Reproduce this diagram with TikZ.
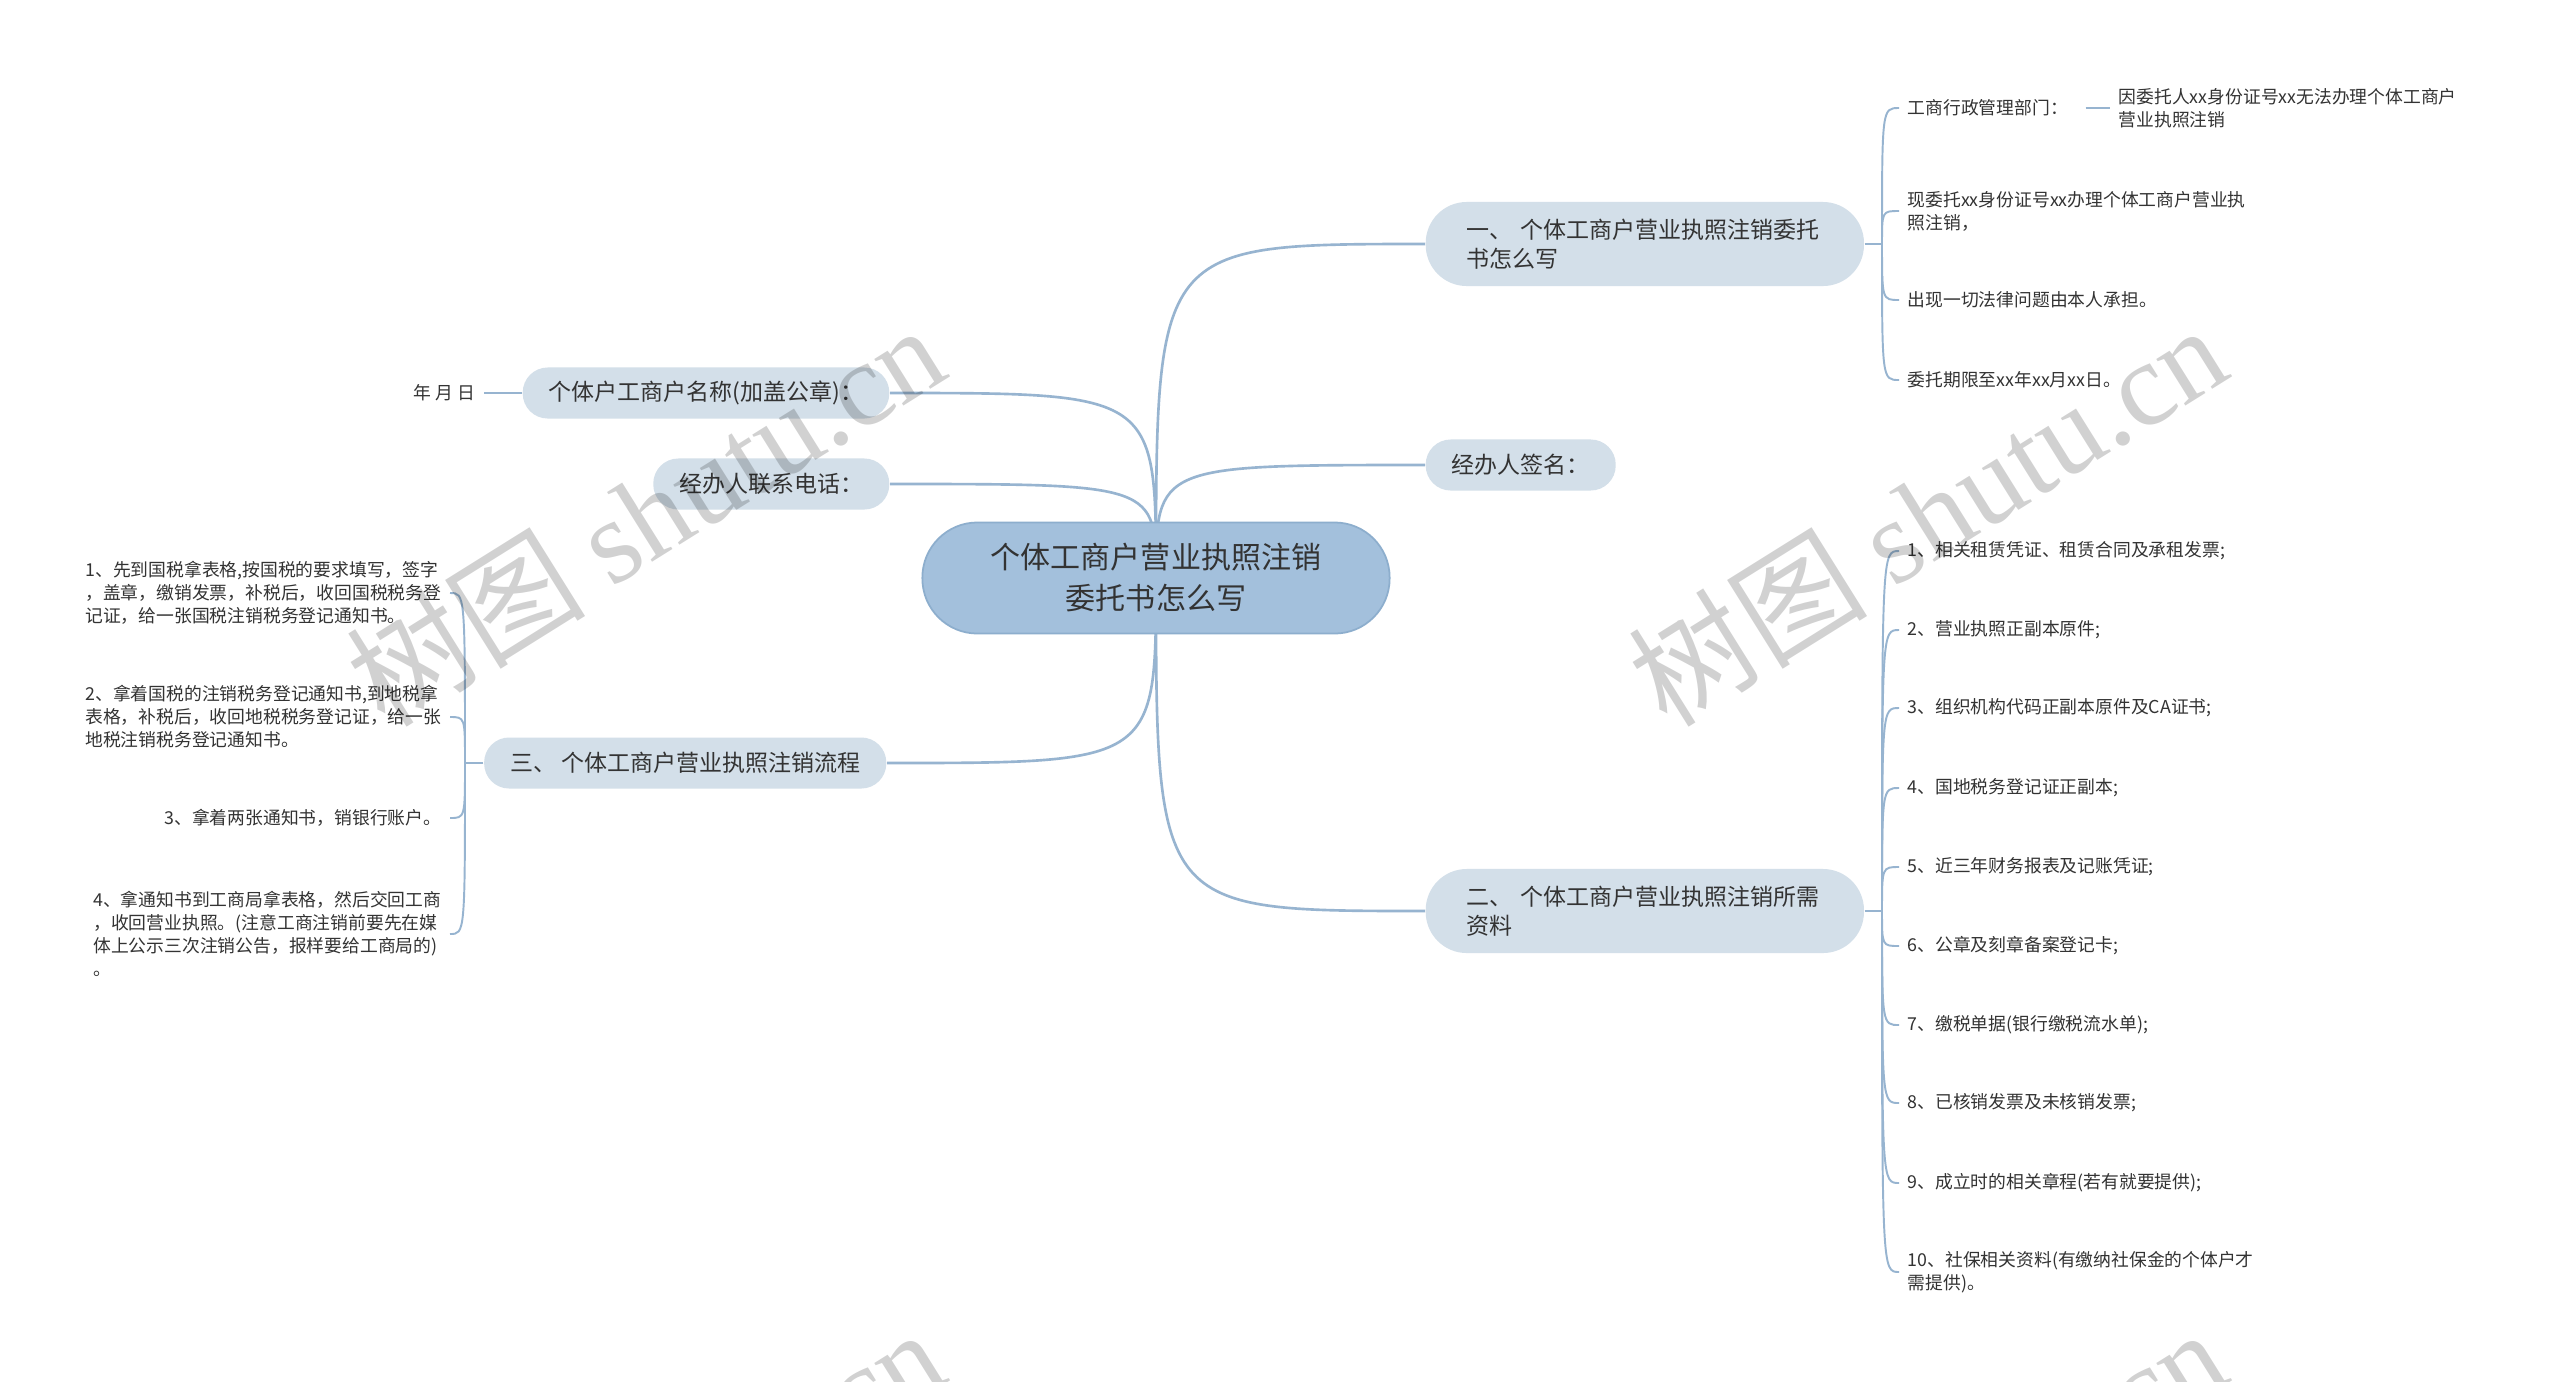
\documentclass[tikz,border=0pt]{standalone}
\usepackage{fontspec}
\setmainfont{Noto Sans CJK SC}
\newfontfamily\wmlatin{Liberation Serif}
\usetikzlibrary{backgrounds}
\definecolor{linkblue}{HTML}{97B4D0}
\definecolor{corefill}{HTML}{A3C0DC}
\definecolor{coreline}{HTML}{8DAECD}
\definecolor{topicfill}{HTML}{D3DFE9}
\definecolor{inktext}{HTML}{333333}

\begin{document}
\begin{tikzpicture}[
    x=0.01cm, y=-0.01cm,
    core/.style={rectangle, rounded corners=0.55cm, fill=corefill, draw=coreline, line width=0.5pt, minimum width=4.67cm, minimum height=1.11cm, align=center, text=inktext, font=\fontsize{8.54pt}{11.66pt}\selectfont},
    topic/.style={rectangle, rounded corners=0.25cm, fill=topicfill, minimum height=0.51cm, inner xsep=0.26cm, inner ysep=0cm, text=inktext, font=\fontsize{6.54pt}{8.25pt}\selectfont},
    bigtopic/.style={topic, rounded corners=0.41cm, minimum height=0.84cm, text width=3.56cm, inner xsep=0.41cm, align=left},
    leaf/.style={inner xsep=0.08cm, inner ysep=0.03cm, align=left, text=inktext, font=\fontsize{5.06pt}{6.54pt}\selectfont},
    link/.style={draw=linkblue, line width=0.75pt},
    twig/.style={draw=linkblue, line width=0.55pt},
    wm/.style={rotate=32, text=black, text opacity=0.18, font=\fontsize{34pt}{34pt}\selectfont}
]
    \useasboundingbox (0,0) rectangle (2560,1381);

    % Centre and first level, placed at pixel coordinates
    \node[core] (core) at (1156,578) {个体工商户营业执照注销\\委托书怎么写};
    \node[bigtopic, anchor=west] (one) at (1425,244) {一、 个体工商户营业执照注销委托\\书怎么写};
    \node[topic, anchor=west] (sign) at (1425,465) {经办人签名：};
    \node[bigtopic, anchor=west] (two) at (1425,911) {二、 个体工商户营业执照注销所需\\资料};
    \node[topic, anchor=east] (name) at (890,393) {个体户工商户名称(加盖公章)：};
    \node[topic, anchor=east] (phone) at (890,484) {经办人联系电话：};
    \node[topic, anchor=east] (three) at (887,763) {三、 个体工商户营业执照注销流程};

    % Leaves of the first branch
    \node[leaf, anchor=west] (dept) at (1899,108) {工商行政管理部门：};
    \node[leaf, anchor=west] (deptx) at (2110,108) {因委托人xx身份证号xx无法办理个体工商户\\营业执照注销};
    \node[leaf, anchor=west] (entrust) at (1899,211) {现委托xx身份证号xx办理个体工商户营业执\\照注销，};
    \node[leaf, anchor=west] (liable) at (1899,300) {出现一切法律问题由本人承担。};
    \node[leaf, anchor=west] (term) at (1899,380) {委托期限至xx年xx月xx日。};

    % Required materials
    \node[leaf, anchor=west] (m1) at (1899,551) {1、相关租赁凭证、租赁合同及承租发票;};
    \node[leaf, anchor=west] (m2) at (1899,630) {2、营业执照正副本原件;};
    \node[leaf, anchor=west] (m3) at (1899,708) {3、组织机构代码正副本原件及CA证书;};
    \node[leaf, anchor=west] (m4) at (1899,788) {4、国地税务登记证正副本;};
    \node[leaf, anchor=west] (m5) at (1899,867) {5、近三年财务报表及记账凭证;};
    \node[leaf, anchor=west] (m6) at (1899,946) {6、公章及刻章备案登记卡;};
    \node[leaf, anchor=west] (m7) at (1899,1025) {7、缴税单据(银行缴税流水单);};
    \node[leaf, anchor=west] (m8) at (1899,1103) {8、已核销发票及未核销发票;};
    \node[leaf, anchor=west] (m9) at (1899,1183) {9、成立时的相关章程(若有就要提供);};
    \node[leaf, anchor=west] (m10) at (1899,1272) {10、社保相关资料(有缴纳社保金的个体户才\\需提供)。};

    % Left side leaves
    \node[leaf, anchor=east] (date) at (484,393) {年 月 日};
    \node[leaf, anchor=east] (s1) at (450,593) {1、先到国税拿表格,按国税的要求填写，签字\\，盖章，缴销发票，补税后，收回国税税务登\\记证，给一张国税注销税务登记通知书。};
    \node[leaf, anchor=east] (s2) at (450,717) {2、拿着国税的注销税务登记通知书,到地税拿\\表格，补税后，收回地税税务登记证，给一张\\地税注销税务登记通知书。};
    \node[leaf, anchor=east] (s3) at (450,818) {3、拿着两张通知书，销银行账户。};
    \node[leaf, anchor=east] (s4) at (450,934) {4、拿通知书到工商局拿表格，然后交回工商\\，收回营业执照。(注意工商注销前要先在媒\\体上公示三次注销公告，报样要给工商局的)\\。};

    \coordinate (oneS) at (1882,244);
    \coordinate (twoS) at (1882,911);
    \coordinate (threeS) at (465,763);

    % Connectors behind the nodes
    \begin{pgfonlayer}{background}
        \fill[white] (0,0) rectangle (2560,1381);
        \draw[link] (core.center) .. controls (core.center |- one.west) .. (one.west);
        \draw[link] (core.center) .. controls (core.center |- sign.west) .. (sign.west);
        \draw[link] (core.center) .. controls (core.center |- two.west) .. (two.west);
        \draw[link] (core.center) .. controls (core.center |- name.east) .. (name.east);
        \draw[link] (core.center) .. controls (core.center |- phone.east) .. (phone.east);
        \draw[link] (core.center) .. controls (core.center |- three.east) .. (three.east);

        \draw[twig] (one.east) -- (oneS);
        \foreach \n in {dept, entrust, liable, term}
            \draw[twig] (oneS) .. controls (oneS |- \n.west) .. (\n.west);
        \draw[twig, shorten <=0.09cm] (dept) -- (deptx);

        \draw[twig] (two.east) -- (twoS);
        \foreach \n in {m1, m2, m3, m4, m5, m6, m7, m8, m9, m10}
            \draw[twig] (twoS) .. controls (twoS |- \n.west) .. (\n.west);

        \draw[twig] (three.west) -- (threeS);
        \foreach \n in {s1, s2, s3, s4}
            \draw[twig] (threeS) .. controls (threeS |- \n.east) .. (\n.east);

        \draw[twig] (name) -- (date);
    \end{pgfonlayer}

    % Watermarks
    \begin{scope}
        \clip (0,0) rectangle (2560,1381);
        \foreach \wx/\wy in {645/514, 1927/514, 645/1518, 1927/1518}
            \node[wm] (mark-\wx-\wy) at (\wx,\wy) {树图 {\wmlatin shutu.cn}};
    \end{scope}
\end{tikzpicture}
\end{document}
